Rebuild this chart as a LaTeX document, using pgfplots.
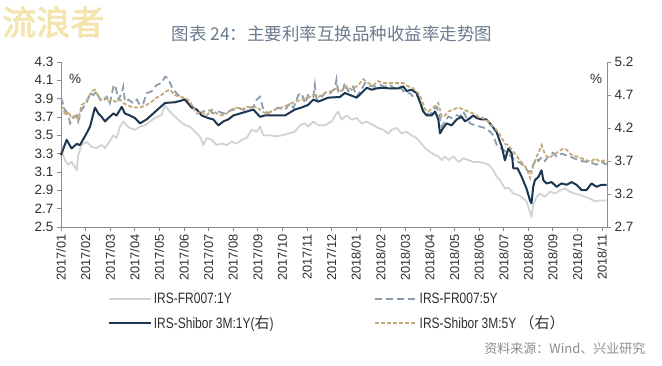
\documentclass[border=0pt]{standalone}
\usepackage{pgfplots}
\pgfplotsset{compat=1.18}
\usepackage{fontspec}
\setmainfont{Liberation Sans}
\newfontfamily\cjk{Noto Sans CJK SC}
\newfontfamily\cjkb[FakeBold=2.5]{Noto Sans CJK SC}
\newfontfamily\legf[FakeStretch=0.8]{Liberation Sans}
\definecolor{frone}{HTML}{D2D2D2}
\definecolor{frfive}{HTML}{8A9CAE}
\definecolor{shone}{HTML}{1D3650}
\definecolor{shfive}{HTML}{C5AB80}
\definecolor{axisgray}{HTML}{8C8C8C}
\definecolor{titlec}{HTML}{6B7C8F}
\definecolor{wm}{HTML}{F4E4AE}
\definecolor{tickc}{HTML}{2E2E2E}
\pgfplotsset{
  base/.style={
    at={(0pt,0pt)}, anchor=south west, scale only axis,
    width=546pt, height=165pt,
    xmin=0, xmax=22.2,
    /pgf/number format/assume math mode=true,
    axis line style={axisgray, line width=0.8pt},
    tick style={axisgray, line width=0.8pt},
    tick align=outside, major tick length=4pt,
    ticklabel style={text=tickc, font=\fontsize{13.5}{13.5}\selectfont},
    yticklabel style={/pgf/number format/.cd, fixed, fixed zerofill, precision=1},
    clip=false,
  }
}
\begin{document}
\begin{tikzpicture}
\useasboundingbox (-61pt,-138pt) rectangle (601pt,227pt);
\node[font=\cjkb\fontsize{34}{34}\selectfont, text=wm, anchor=west, inner sep=0pt] at (-59pt,205pt) {流浪者};
\node[font=\cjk\fontsize{17.5}{18}\selectfont, text=titlec] at (271pt,193pt) {图表 24：主要利率互换品种收益率走势图};
\begin{axis}[base,
  axis y line*=left, axis x line*=bottom,
  ymin=2.5, ymax=4.3,
  ytick={2.5,2.7,2.9,3.1,3.3,3.5,3.7,3.9,4.1,4.3},
  xtick={0,1,2,3,4,5,6,7,8,9,10,11,12,13,14,15,16,17,18,19,20,21,22},
  xticklabels={2017/01,2017/02,2017/03,2017/04,2017/05,2017/06,2017/07,2017/08,2017/09,2017/10,2017/11,2017/12,2018/01,2018/02,2018/03,2018/04,2018/05,2018/06,2018/07,2018/08,2018/09,2018/10,2018/11},
  xticklabel style={rotate=90, anchor=east, font=\fontsize{12.8}{12.8}\selectfont},
]
\addplot[frone, line width=1.8pt, line join=round] coordinates {
(0,3.34) (0.16,3.23) (0.30,3.18) (0.43,3.21) (0.57,3.15) (0.64,3.12) (0.70,3.285) (0.84,3.395) (1.04,3.43) (1.25,3.375) (1.45,3.36) (1.65,3.395) (1.79,3.36) (1.92,3.41) (2.13,3.50) (2.26,3.47) (2.40,3.595) (2.53,3.65) (2.67,3.61) (2.80,3.58) (3.01,3.56) (3.21,3.595) (3.41,3.61) (3.62,3.65) (3.82,3.69) (4.09,3.72) (4.23,3.83) (4.36,3.78) (4.50,3.74) (4.77,3.67) (5.04,3.61) (5.24,3.595) (5.45,3.54) (5.65,3.485) (5.79,3.395) (5.92,3.47) (6.13,3.45) (6.33,3.395) (6.53,3.41) (6.74,3.395) (6.94,3.43) (7.14,3.41) (7.35,3.45) (7.55,3.47) (7.75,3.56) (7.96,3.54) (8.09,3.595) (8.23,3.50) (8.50,3.50) (8.77,3.49) (8.97,3.50) (9.24,3.52) (9.51,3.54) (9.72,3.61) (9.92,3.63) (10.05,3.595) (10.26,3.65) (10.46,3.61) (10.73,3.61) (11.0,3.65) (11.2,3.74) (11.27,3.76) (11.41,3.67) (11.61,3.72) (11.82,3.67) (12.02,3.69) (12.22,3.63) (12.43,3.65) (12.70,3.61) (12.90,3.58) (13.10,3.56) (13.31,3.52) (13.44,3.56) (13.65,3.58) (13.85,3.52) (14.05,3.54) (14.25,3.50) (14.46,3.47) (14.66,3.41) (14.80,3.36) (15.0,3.32) (15.21,3.285) (15.34,3.27) (15.48,3.23) (15.61,3.27) (15.75,3.23) (15.95,3.27) (16.16,3.21) (16.36,3.25) (16.56,3.23) (16.76,3.21) (16.97,3.21) (17.17,3.20) (17.38,3.18) (17.58,3.12) (17.71,3.05) (17.85,3.01) (18.05,2.92) (18.19,2.93) (18.39,2.865) (18.60,2.85) (18.80,2.81) (18.93,2.78) (19.07,2.66) (19.13,2.61) (19.20,2.74) (19.34,2.83) (19.47,2.865) (19.67,2.83) (19.88,2.885) (20.08,2.865) (20.29,2.90) (20.49,2.92) (20.69,2.885) (20.89,2.865) (21.1,2.85) (21.3,2.83) (21.5,2.81) (21.71,2.78) (21.91,2.79) (22.18,2.79)
};
\addplot[frfive, line width=1.8pt, dash pattern=on 7pt off 4pt] coordinates {
(0,3.91) (0.16,3.78) (0.30,3.72) (0.37,3.63) (0.50,3.69) (0.64,3.72) (0.70,3.65) (0.84,3.78) (1.04,3.85) (1.18,3.96) (1.31,3.94) (1.45,3.98) (1.58,3.89) (1.72,3.87) (1.86,3.92) (1.99,3.85) (2.13,4.03) (2.20,4.05) (2.33,3.89) (2.47,3.96) (2.53,4.03) (2.60,3.87) (2.74,3.89) (2.94,3.85) (3.08,3.89) (3.21,3.83) (3.35,3.85) (3.48,3.96) (3.69,3.98) (3.89,4.05) (4.09,4.07) (4.23,4.14) (4.36,4.12) (4.50,4.03) (4.63,3.98) (4.84,3.92) (5.04,3.89) (5.24,3.85) (5.45,3.78) (5.59,3.74) (5.79,3.76) (5.99,3.78) (6.19,3.74) (6.40,3.76) (6.60,3.74) (6.80,3.76) (7.01,3.78) (7.21,3.80) (7.42,3.78) (7.62,3.80) (7.82,3.81) (7.96,3.89) (8.09,3.92) (8.23,3.78) (8.43,3.74) (8.63,3.78) (8.83,3.80) (9.11,3.78) (9.31,3.85) (9.45,3.80) (9.65,3.94) (9.78,3.96) (9.92,3.85) (10.05,3.94) (10.26,3.92) (10.32,4.05) (10.39,3.89) (10.60,3.92) (10.80,3.98) (10.94,3.96) (11.14,4.01) (11.20,4.11) (11.27,3.98) (11.47,4.00) (11.54,4.07) (11.68,3.98) (11.88,4.03) (12.02,3.92) (12.22,4.00) (12.36,4.07) (12.56,4.04) (12.76,4.03) (12.97,4.05) (13.17,4.03) (13.37,4.05) (13.58,4.01) (13.78,4.03) (13.99,3.96) (14.19,3.96) (14.32,3.92) (14.46,3.94) (14.59,3.87) (14.73,3.76) (14.87,3.74) (15.0,3.72) (15.14,3.78) (15.28,3.81) (15.41,3.69) (15.48,3.595) (15.61,3.65) (15.75,3.705) (15.88,3.69) (16.09,3.72) (16.22,3.705) (16.36,3.76) (16.49,3.69) (16.63,3.63) (16.83,3.61) (17.04,3.595) (17.24,3.58) (17.44,3.54) (17.58,3.50) (17.71,3.40) (17.85,3.37) (18.05,3.33) (18.19,3.30) (18.33,3.26) (18.46,3.23) (18.66,3.20) (18.80,3.17) (18.93,3.13) (19.0,3.10) (19.13,3.12) (19.20,3.18) (19.34,3.25) (19.41,3.22) (19.54,3.26) (19.67,3.22) (19.81,3.27) (20.01,3.31) (20.15,3.27) (20.35,3.30) (20.56,3.28) (20.76,3.26) (20.96,3.24) (21.17,3.22) (21.37,3.21) (21.57,3.20) (21.77,3.18) (21.98,3.21) (22.18,3.18)
};
\node[font=\fontsize{13.5}{13.5}\selectfont, text=tickc] at (axis description cs:0.026,0.9) {\%};
\end{axis}
\begin{axis}[base,
  axis y line*=right, axis x line=none,
  ymin=2.7, ymax=5.2,
  ytick={2.7,3.2,3.7,4.2,4.7,5.2},
  legend columns=2,
  legend cell align=left,
  legend image code/.code={\draw[#1] (0pt,0pt) -- (42pt,0pt);},
  legend style={draw=none, fill=none, at={(0.08,-0.375)}, anchor=north west,
    font=\legf\fontsize{15}{15}\selectfont, text=tickc,
    /tikz/every even column/.append style={column sep=0pt},
    row sep=7pt},
]
\addlegendimage{frone, line width=1.8pt}
\addlegendentry{\makebox[218pt][l]{IRS-FR007:1Y}}
\addlegendimage{frfive, line width=1.8pt, dash pattern=on 7pt off 4pt}
\addlegendentry{IRS-FR007:5Y}
\addplot[shone, line width=2pt, line join=round] coordinates {
(0,3.79) (0.23,4.02) (0.43,3.89) (0.64,3.96) (0.77,3.94) (1.04,4.12) (1.18,4.22) (1.38,4.51) (1.52,4.42) (1.65,4.37) (1.79,4.30) (1.92,4.35) (2.13,4.42) (2.26,4.39) (2.47,4.52) (2.60,4.42) (2.80,4.39) (3.01,4.35) (3.21,4.27) (3.48,4.33) (3.75,4.42) (4.02,4.51) (4.23,4.58) (4.63,4.59) (5.04,4.63) (5.31,4.51) (5.52,4.48) (5.72,4.39) (5.99,4.35) (6.19,4.33) (6.40,4.24) (6.60,4.30) (6.80,4.33) (7.01,4.39) (7.28,4.42) (7.55,4.45) (7.82,4.48) (8.09,4.37) (8.29,4.39) (8.56,4.39) (8.90,4.39) (9.11,4.39) (9.51,4.48) (9.78,4.51) (10.05,4.55) (10.26,4.63) (10.46,4.60) (10.87,4.66) (11.34,4.67) (11.54,4.73) (12.02,4.66) (12.22,4.73) (12.43,4.81) (12.63,4.78) (12.83,4.80) (13.04,4.81) (13.37,4.80) (13.71,4.80) (13.92,4.83) (14.05,4.76) (14.25,4.78) (14.46,4.73) (14.59,4.60) (14.73,4.45) (14.87,4.39) (15.07,4.39) (15.21,4.45) (15.34,4.33) (15.41,4.12) (15.54,4.20) (15.68,4.27) (15.88,4.24) (16.09,4.33) (16.29,4.37) (16.43,4.30) (16.63,4.35) (16.76,4.39) (16.90,4.35) (17.10,4.33) (17.30,4.33) (17.51,4.24) (17.71,4.14) (17.85,3.99) (17.92,3.92) (18.05,3.71) (18.19,3.89) (18.33,3.81) (18.39,3.59) (18.56,3.59) (18.73,3.46) (18.93,3.28) (19.07,3.10) (19.13,3.06) (19.20,3.31) (19.27,3.41) (19.41,3.46) (19.54,3.56) (19.61,3.41) (19.74,3.36) (19.95,3.38) (20.15,3.31) (20.35,3.36) (20.56,3.34) (20.76,3.38) (20.96,3.34) (21.17,3.26) (21.37,3.26) (21.57,3.36) (21.77,3.31) (21.98,3.34) (22.18,3.34)
};
\addlegendentry{\makebox[218pt][l]{IRS-Shibor 3M:1Y({\cjk 右})}}
\addplot[shfive, line width=1.8pt, dash pattern=on 4pt off 2pt] coordinates {
(0,4.48) (0.1,4.51) (0.16,4.39) (0.3,4.45) (0.43,4.35) (0.57,4.39) (0.7,4.33) (0.84,4.55) (0.98,4.58) (1.11,4.66) (1.25,4.76) (1.38,4.78) (1.52,4.67) (1.65,4.63) (1.79,4.66) (1.92,4.60) (2.06,4.63) (2.2,4.60) (2.4,4.63) (2.53,4.58) (2.67,4.55) (2.87,4.52) (3.08,4.51) (3.28,4.52) (3.48,4.55) (3.69,4.60) (3.89,4.66) (4.09,4.70) (4.3,4.76) (4.43,4.78) (4.63,4.70) (4.84,4.67) (5.04,4.66) (5.24,4.60) (5.38,4.51) (5.52,4.42) (5.72,4.45) (5.92,4.39) (6.13,4.48) (6.33,4.42) (6.53,4.39) (6.74,4.42) (6.94,4.48) (7.14,4.51) (7.35,4.48) (7.55,4.52) (7.75,4.51) (7.96,4.52) (8.16,4.45) (8.36,4.42) (8.56,4.45) (8.77,4.49) (8.97,4.51) (9.24,4.55) (9.51,4.60) (9.78,4.63) (10.05,4.66) (10.26,4.70) (10.46,4.67) (10.73,4.73) (11.0,4.76) (11.2,4.80) (11.41,4.76) (11.61,4.83) (11.82,4.78) (12.09,4.85) (12.29,4.94) (12.49,4.88) (12.70,4.85) (12.90,4.91) (13.10,4.88) (13.44,4.88) (13.65,4.88) (13.92,4.88) (14.12,4.83) (14.32,4.80) (14.53,4.73) (14.66,4.63) (14.80,4.48) (14.93,4.45) (15.14,4.51) (15.34,4.58) (15.48,4.37) (15.61,4.39) (15.75,4.45) (15.95,4.48) (16.16,4.51) (16.36,4.48) (16.56,4.45) (16.76,4.42) (16.97,4.37) (17.17,4.35) (17.38,4.30) (17.58,4.22) (17.78,4.14) (17.92,4.05) (18.05,3.96) (18.19,3.94) (18.33,3.87) (18.46,3.81) (18.66,3.71) (18.87,3.62) (19.00,3.53) (19.07,3.44) (19.20,3.62) (19.34,3.77) (19.47,3.87) (19.54,3.94) (19.67,3.81) (19.81,3.74) (20.01,3.79) (20.22,3.84) (20.42,3.89) (20.56,3.87) (20.76,3.79) (20.96,3.77) (21.17,3.74) (21.37,3.71) (21.57,3.69) (21.71,3.74) (21.91,3.69) (22.05,3.71) (22.18,3.67)
};
\addlegendentry{IRS-Shibor 3M:5Y {\cjk （右）}}
\node[font=\fontsize{13.5}{13.5}\selectfont, text=tickc] at (axis description cs:0.98,0.9) {\%};
\end{axis}
\node[font=\cjk\fontsize{13}{13}\selectfont, text=black!45, anchor=east] at (588pt,-122pt) {资料来源：Wind、兴业研究};
\end{tikzpicture}
\end{document}
